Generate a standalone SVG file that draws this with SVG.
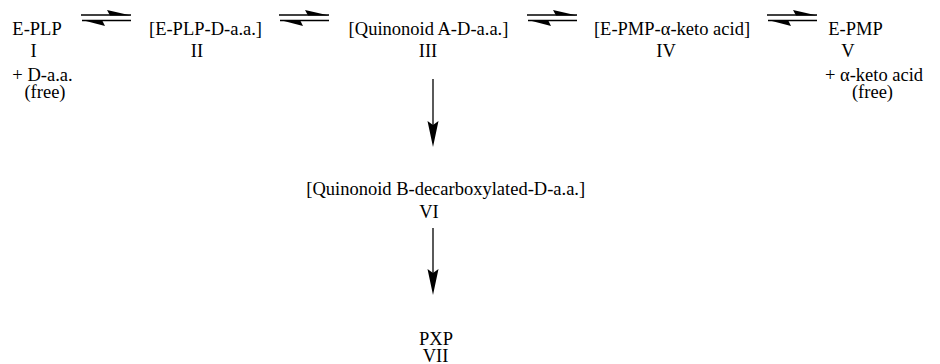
<svg xmlns="http://www.w3.org/2000/svg" width="940" height="364" viewBox="0 0 940 364">
  <defs>
    <style>
      text { font-family: "Liberation Serif", "Times New Roman", serif; font-size: 18.5px; fill: #000; text-anchor: middle; }
      .ln { stroke: #000; stroke-width: 1.3; fill: none; }
      .hd { fill: #000; stroke: none; }
    </style>
    <!-- equilibrium (double harpoon) arrow, 50 px long, origin at left end of upper line -->
    <g id="eq">
      <line class="ln" x1="0" y1="0" x2="50" y2="0"/>
      <polygon class="hd" points="50,0.6 26,-5 29,0.6"/>
      <line class="ln" x1="1" y1="5.5" x2="50" y2="5.5"/>
      <polygon class="hd" points="1,4.9 24,11 21,4.9"/>
    </g>
    <!-- downward reaction arrowhead, tip at origin -->
    <polygon id="down" class="hd" points="0,0 -5.5,-26 0,-22 5.5,-26"/>
  </defs>

  <g id="connectors">
    <use href="#eq" x="81" y="15"/>
    <use href="#eq" x="279" y="15"/>
    <use href="#eq" x="527" y="15"/>
    <use href="#eq" x="767" y="15"/>
    <line class="ln" x1="433" y1="79" x2="433" y2="128"/>
    <use href="#down" x="433" y="147"/>
    <line class="ln" x1="433" y1="228" x2="433" y2="275"/>
    <use href="#down" x="433" y="295"/>
  </g>

  <g id="node-I">
    <text x="37" y="35">E-PLP</text>
    <text x="33.5" y="57">I</text>
    <text x="42.5" y="81">+ D-a.a.</text>
    <text x="45" y="97.5">(free)</text>
  </g>

  <g id="node-II">
    <text x="205.5" y="35">[E-PLP-D-a.a.]</text>
    <text x="197" y="57">II</text>
  </g>

  <g id="node-III">
    <text x="428.5" y="35">[Quinonoid A-D-a.a.]</text>
    <text x="428" y="57">III</text>
  </g>

  <g id="node-IV">
    <text x="672" y="35">[E-PMP-α-keto acid]</text>
    <text x="666" y="57">IV</text>
  </g>

  <g id="node-V">
    <text x="855.5" y="35">E-PMP</text>
    <text x="848" y="57">V</text>
    <text x="874" y="81">+ α-keto acid</text>
    <text x="872.5" y="97.5">(free)</text>
  </g>

  <g id="node-VI">
    <text x="445.7" y="195">[Quinonoid B-decarboxylated-D-a.a.]</text>
    <text x="429" y="218">VI</text>
  </g>

  <g id="node-VII">
    <text x="436" y="345">PXP</text>
    <text x="435.5" y="361.5">VII</text>
  </g>
</svg>
